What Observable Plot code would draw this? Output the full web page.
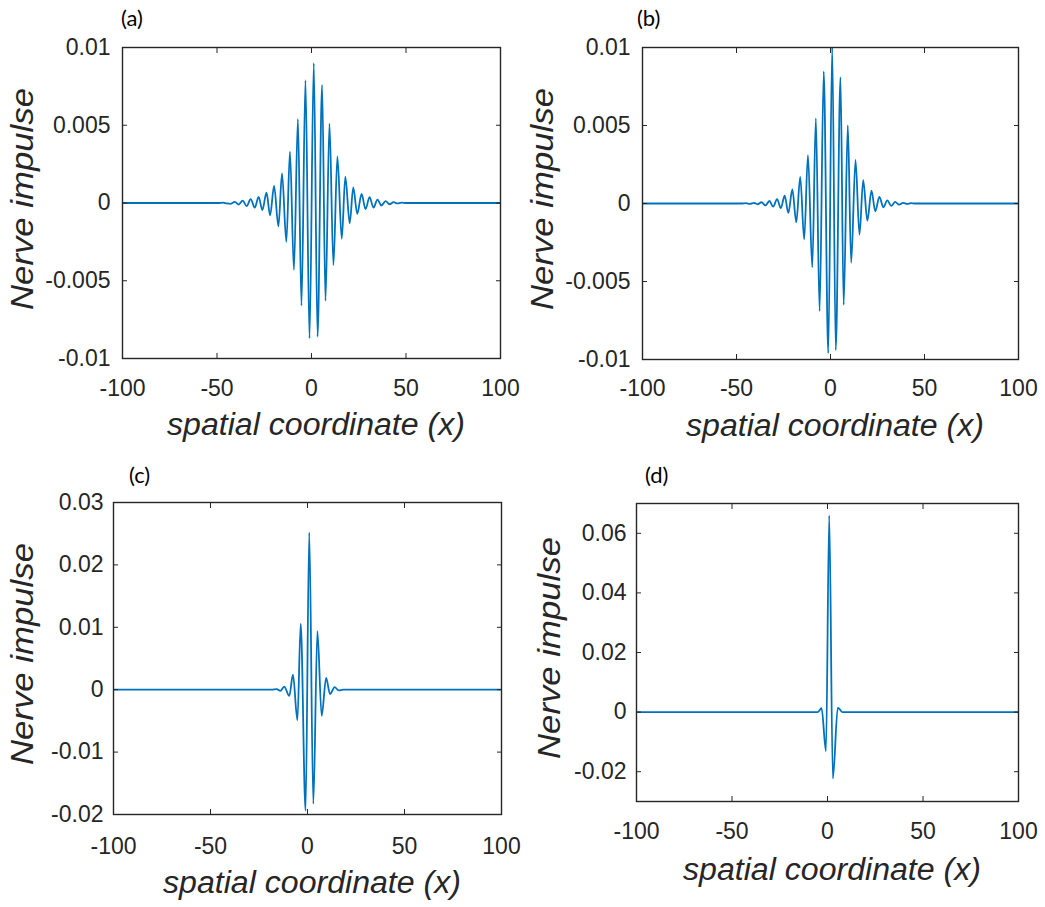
<!DOCTYPE html>
<html><head><meta charset="utf-8">
<script src="https://cdn.jsdelivr.net/npm/d3@7"></script>
<script src="https://cdn.jsdelivr.net/npm/@observablehq/plot@0.6"></script>
<style>
body{margin:0;background:#fff;}
#wrap{position:relative;width:1045px;height:907px;overflow:hidden;background:#fff;}
.panel{position:absolute;}
#overlay{position:absolute;left:0;top:0;pointer-events:none;}
</style></head><body><div id="wrap"></div>
<script>
// ---- data (extrema of each wave packet) ----
const xTicks = [-100, -50, 0, 50, 100];
const abYTicks = [-0.01, -0.005, 0, 0.005, 0.01];
const cYTicks = [-0.02, -0.01, 0, 0.01, 0.02, 0.03];
const dYTicks = [-0.02, 0, 0.02, 0.04, 0.06];
const panelLabels = ["(a)", "(b)", "(c)", "(d)"];
const xTitle = "spatial coordinate (x)";
const yTitle = "Nerve impulse";

const aX = [-100, -49, -46.9, -44.8, -42.7, -40.6, -38.5, -36.4, -34.3, -32.2, -30, -28, -26, -23.8, -21.9, -19.8, -17.5, -15.6, -13.3, -11.4, -9.3, -7.2, -5.3, -3.2, -1.05, 1.2, 3.2, 5.6, 7.4, 9.5, 11.6, 13.7, 16, 17.9, 20.2, 22.1, 24.2, 26.5, 28.6, 30.7, 32.8, 34.9, 37, 39.2, 41.3, 43.4, 45.5, 47.6, 50, 100];
const aY = [0, 0, 0.00002, -0.00003, -0.00005, 0.00007, -0.0001, 0.00015, -0.0002, 0.00025, -0.0003, 0.0004, -0.00045, 0.00066, -0.0008, 0.0011, -0.0015, 0.0019, -0.0025, 0.0033, -0.0043, 0.0054, -0.0066, 0.0079, -0.0087, 0.0090, -0.0086, 0.0076, -0.0063, 0.0051, -0.0040, 0.0030, -0.0023, 0.0017, -0.0013, 0.0010, -0.0007, 0.00058, -0.0004, 0.00038, -0.0003, 0.00022, -0.00016, 0.00012, -0.00008, 0.00005, -0.00003, 0.00002, 0, 0];

const bX = [-100, -47, -44.9, -42.8, -40.7, -38.8, -36.7, -34.6, -32.5, -30.5, -28.4, -26.4, -24.4, -22.4, -20.3, -18.2, -16.1, -14, -12, -9.7, -7.8, -5.8, -3.6, -1.2, 0.9, 2.8, 5.3, 7, 9.2, 11, 13.3, 15.4, 17.4, 19.6, 21.8, 23.8, 26, 28.1, 30.2, 32.3, 34.4, 36.5, 38.6, 40.7, 42.8, 45, 100];
const bY = [0, 0, 0.00002, -0.00003, 0.00004, -0.00005, 0.00008, -0.00012, 0.00016, -0.0002, 0.00028, -0.0003, 0.0005, -0.0006, 0.0009, -0.0012, 0.0017, -0.0023, 0.0031, -0.0041, 0.00546, -0.0069, 0.00846, -0.0096, 0.0100, -0.0094, 0.0081, -0.0065, 0.0050, -0.0038, 0.0028, -0.0020, 0.0015, -0.0011, 0.00083, -0.0005, 0.00043, -0.00024, 0.0002, -0.00015, 0.0001, -0.00007, 0.00004, -0.00003, 0.00002, 0, 0];

const cX = [-100, -18.5, -15.8, -14, -12, -9.4, -7.5, -5.2, -3.5, -1, 0.9, 3, 5.1, 7.3, 9.6, 11.6, 14, 16, 18.5, 100];
const cY = [0, 0, 0.0001, -0.0002, 0.0005, -0.001, 0.0024, -0.0049, 0.0106, -0.0194, 0.0252, -0.0183, 0.0094, -0.0042, 0.0019, -0.0007, 0.0004, -0.0001, 0, 0];

const dX = [-100, -5.2, -3.1, -0.8, 0.9, 2.8, 5.4, 7.8, 100];
const dY = [0, 0, 0.0013, -0.0131, 0.066, -0.0223, 0.0015, 0, 0];

// ---- rendering ----
const wrap = document.getElementById("wrap");
const ink = "#262626";
const tickFont = "\"Liberation Sans\", Arial, sans-serif";
function fmt(d) { return d === 0 ? "0" : String(+d.toPrecision(6)); }

function panel(xs, ys, yDomain, yTicks, box) {
  const data = xs.map((x, i) => ({x, y: ys[i]}));
  const p = Plot.plot({
    width: box.w, height: box.h,
    marginLeft: box.ml, marginRight: box.mr, marginTop: box.mt, marginBottom: box.mb,
    x: {domain: [-100, 100]},
    y: {domain: yDomain},
    style: {fontFamily: tickFont, fontSize: "23px", color: ink, background: "transparent", overflow: "visible"},
    marks: [
      Plot.line(data, {x: "x", y: "y", stroke: "#0072BD", strokeWidth: 1.8, curve: "monotone-x", clip: true}),
      Plot.axisX(xTicks, {anchor: "bottom", tickSize: 0, tickPadding: box.px, tickFormat: fmt, label: null, fontSize: 23}),
      Plot.axisX(xTicks, {anchor: "bottom", tickSize: -5, fill: "none", label: null}),
      Plot.axisX(xTicks, {anchor: "top", tickSize: -5, fill: "none", label: null}),
      Plot.axisY(yTicks, {anchor: "left", tickSize: 0, tickPadding: box.py, tickFormat: fmt, label: null, fontSize: 23}),
      Plot.axisY(yTicks, {anchor: "left", tickSize: -5, fill: "none", label: null}),
      Plot.axisY(yTicks, {anchor: "right", tickSize: -5, fill: "none", label: null}),
      Plot.frame({stroke: ink, strokeWidth: 1.4})
    ]
  });
  p.classList.add("panel");
  p.style.left = box.left + "px";
  p.style.top = box.top + "px";
  wrap.appendChild(p);
}

panel(aX, aY, [-0.01, 0.01], abYTicks, {left: 0, top: 0, w: 520, h: 450, ml: 122, mr: 20, mt: 47, mb: 92, px: 21, py: 12});
panel(bX, bY, [-0.01, 0.01], abYTicks, {left: 520, top: 0, w: 525, h: 450, ml: 122, mr: 27, mt: 47, mb: 91, px: 20, py: 12});
panel(cX, cY, [-0.02, 0.03], cYTicks, {left: 0, top: 450, w: 520, h: 457, ml: 113, mr: 19, mt: 52, mb: 93, px: 23, py: 10});
panel(dX, dY, [-0.03, 0.07], dYTicks, {left: 520, top: 450, w: 525, h: 457, ml: 116, mr: 27, mt: 53, mb: 106, px: 21, py: 10});

// ---- titles and panel letters ----
const ns = "http://www.w3.org/2000/svg";
const ov = document.createElementNS(ns, "svg");
ov.setAttribute("id", "overlay");
ov.setAttribute("width", 1045);
ov.setAttribute("height", 907);
wrap.appendChild(ov);
function txt(s, x, y, opts) {
  const t = document.createElementNS(ns, "text");
  t.textContent = s;
  t.setAttribute("x", x); t.setAttribute("y", y);
  for (const k in opts) t.setAttribute(k, opts[k]);
  ov.appendChild(t);
}
const letterPos = [[121, 26], [637, 26], [129, 483], [645, 483]];
panelLabels.forEach((s, i) => txt(s, letterPos[i][0], letterPos[i][1], {"font-family": "Lato, 'Open Sans', sans-serif", "font-size": 22, fill: "#000"}));
const titleStyle = {"font-family": tickFont, "font-style": "italic", "font-size": 31, "text-anchor": "middle", fill: ink, lengthAdjust: "spacingAndGlyphs"};
const xt = [[316, 435], [835, 436], [312, 893], [832, 880]];
xt.forEach(([x, y]) => txt(xTitle, x, y, {...titleStyle, textLength: 298}));
const yt = [[33, 199], [553, 199], [33, 654], [560, 648]];
yt.forEach(([x, y]) => txt(yTitle, x, y, {...titleStyle, textLength: 222, transform: `rotate(-90 ${x} ${y})`}));
</script></body></html>
